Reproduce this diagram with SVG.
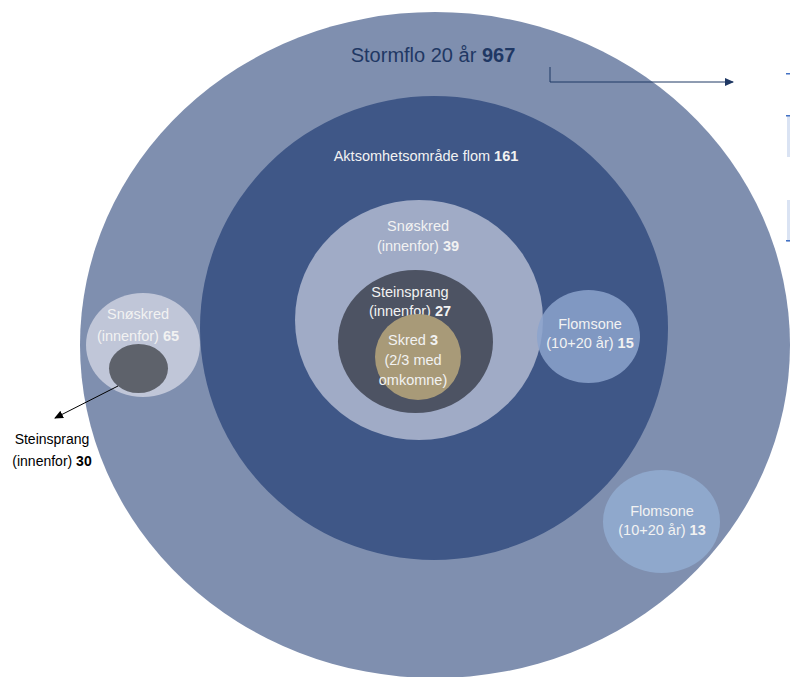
<svg xmlns="http://www.w3.org/2000/svg" width="790" height="677" viewBox="0 0 790 677">
<style>
text{font-family:"Liberation Sans",Arial,sans-serif;text-anchor:middle}
.w{fill:#F2F2F2;font-size:14.5px}
.k{fill:#000000;font-size:14px}
.b{font-weight:bold}
.conn{stroke-width:1;fill:none}
</style>
<defs>
<marker id="ahn" markerWidth="9" markerHeight="9" refX="8" refY="4.5" orient="auto" markerUnits="userSpaceOnUse">
<path d="M0,0.5 L9,4.5 L0,8.5 Z" fill="#1F3864"/>
</marker>
<marker id="ahk" markerWidth="9" markerHeight="9" refX="8" refY="4.5" orient="auto" markerUnits="userSpaceOnUse">
<path d="M0,0.5 L9,4.5 L0,8.5 Z" fill="#000"/>
</marker>
</defs>
<rect width="790" height="677" fill="#FFFFFF"/>
<g id="edge-fragments">
<rect x="786" y="73" width="4" height="1.5" fill="#4472C4"/>
<rect x="787" y="115" width="3" height="42" fill="#DAE3F3"/>
<rect x="786" y="115" width="4" height="1.5" fill="#4472C4"/>
<rect x="787" y="200" width="3" height="42" fill="#DAE3F3"/>
<rect x="786" y="240" width="4" height="1.5" fill="#4472C4"/>
</g>
<g id="stormflo">
<ellipse cx="435" cy="345" rx="355" ry="333" fill="#7F8FAF"/>
<text x="433" y="62" style="font-size:20px;fill:#1F3864">Stormflo 20 år <tspan class="b">967</tspan></text>
</g>
<g id="aktsomhet">
<ellipse cx="434" cy="328" rx="234" ry="232" fill="#3F5787"/>
<text class="w" x="426" y="161">Aktsomhetsområde flom <tspan class="b">161</tspan></text>
</g>
<g id="snoskred39">
<ellipse cx="419" cy="320" rx="124" ry="120" fill="#A0ABC6"/>
<text class="w" x="418" y="231">Snøskred</text>
<text class="w" x="418" y="251">(innenfor) <tspan class="b">39</tspan></text>
</g>
<g id="steinsprang27">
<ellipse cx="415.5" cy="341.5" rx="77.5" ry="71.5" fill="#4D5363"/>
<text class="w" x="410" y="297">Steinsprang</text>
<text class="w" x="410" y="316">(innenfor) <tspan class="b">27</tspan></text>
</g>
<g id="skred3">
<ellipse cx="418" cy="357" rx="43" ry="43" fill="#A89A78"/>
<text class="w" x="413" y="345">Skred <tspan class="b">3</tspan></text>
<text class="w" x="413" y="365">(2/3 med</text>
<text class="w" x="413" y="385">omkomne)</text>
</g>
<g id="flomsone15">
<ellipse cx="588.5" cy="336.5" rx="51.5" ry="46.5" fill="#8CA3CC" fill-opacity="0.85"/>
<text class="w" x="590" y="329">Flomsone</text>
<text class="w" x="590" y="348">(10+20 år) <tspan class="b">15</tspan></text>
</g>
<g id="flomsone13">
<ellipse cx="661.5" cy="521.5" rx="58.5" ry="51.5" fill="#8FA8CC"/>
<text class="w" x="662" y="516">Flomsone</text>
<text class="w" x="662" y="535">(10+20 år) <tspan class="b">13</tspan></text>
</g>
<g id="snoskred65">
<ellipse cx="143" cy="345" rx="57" ry="52" fill="#C0C6D8"/>
<text class="w" x="138" y="319">Snøskred</text>
<text class="w" x="138" y="341">(innenfor) <tspan class="b">65</tspan></text>
</g>
<g id="steinsprang30">
<ellipse cx="138.5" cy="368.5" rx="29.5" ry="24.5" fill="#5E626B"/>
<text class="k" x="52" y="444">Steinsprang</text>
<text class="k" x="52" y="466">(innenfor) <tspan class="b">30</tspan></text>
</g>
<g id="connectors">
<path class="conn" d="M550,67 V82 H733" stroke="#1F3864" marker-end="url(#ahn)"/>
<path class="conn" d="M118,386 L55,418" stroke="#000" marker-end="url(#ahk)"/>
</g>
</svg>
